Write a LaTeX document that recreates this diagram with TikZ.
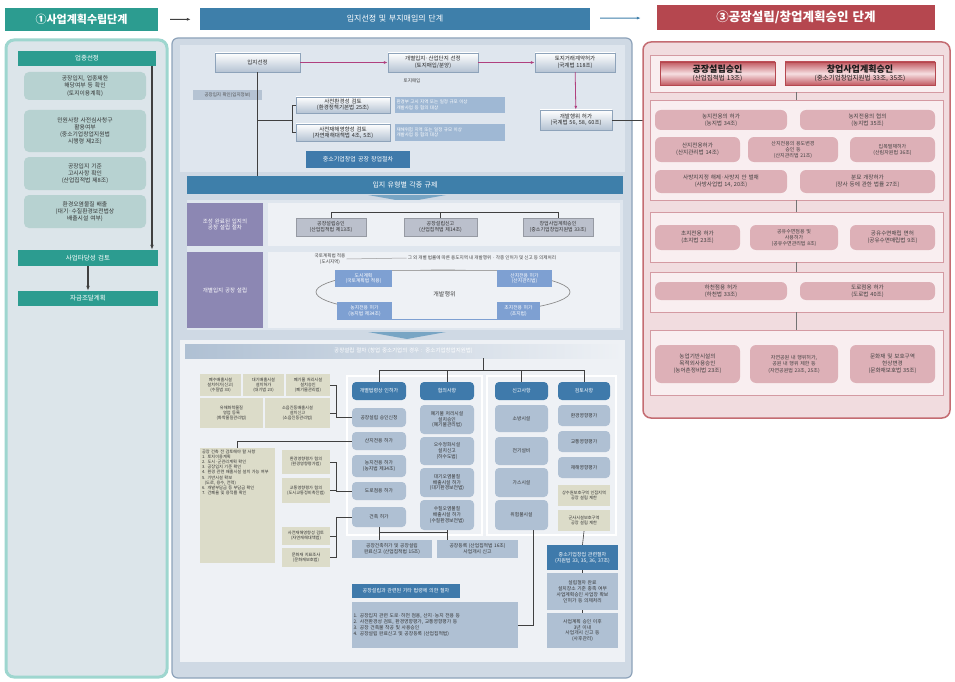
\documentclass[tikz,border=0pt]{standalone}
\usepackage{fontspec}
\setmainfont{Noto Sans CJK KR}
\usetikzlibrary{arrows.meta,shapes.geometric}
\XeTeXlinebreaklocale "ko"
\definecolor{tealH}{HTML}{2C9C90}
\definecolor{tealL}{HTML}{B7D2D1}
\definecolor{tealP}{HTML}{9ED6CF}
\definecolor{panL}{HTML}{DCE5EA}
\definecolor{blueH}{HTML}{3E7FAA}
\definecolor{blueM}{HTML}{3F7AAB}
\definecolor{gbF}{HTML}{B5C3D3}
\definecolor{gbB}{HTML}{8EA3BA}
\definecolor{lbF}{HTML}{9FB8D4}
\definecolor{midP}{HTML}{CFD9E4}
\definecolor{midI}{HTML}{DFE6EE}
\definecolor{secL}{HTML}{EEF1F5}
\definecolor{purpF}{HTML}{8C87B3}
\definecolor{greyF}{HTML}{BBC0CC}
\definecolor{bluebF}{HTML}{7EA0D2}
\definecolor{colF}{HTML}{AFC0D3}
\definecolor{beigeF}{HTML}{DCDCC9}
\definecolor{redH}{HTML}{B5474F}
\definecolor{redM}{HTML}{C25A62}
\definecolor{redL}{HTML}{F6DFE2}
\definecolor{pinkF}{HTML}{DDB0B7}
\definecolor{pinkS}{HTML}{F9EEF0}
\definecolor{pinkB}{HTML}{D49AA2}
\definecolor{pinkP}{HTML}{F1DCDF}
\definecolor{magA}{HTML}{B0407E}
\newcommand\bx[7]{%
 \pgfmathsetmacro\bxw{#4-(#2)}%
 \pgfmathsetmacro\bxh{#5-(#3)}%
 \pgfmathsetmacro\bxx{(#2+#4)/2}%
 \pgfmathsetmacro\bxy{(#3+#5)/2}%
 \pgfmathsetmacro\bxt{max(#4-(#2)-3,1)}%
 \node[#6, minimum width=\bxw pt, minimum height=\bxh pt, text width=\bxt pt] (#1) at (\bxx,\bxy) {#7};}
\begin{document}
\begin{tikzpicture}[x=1pt,y=-1pt,
 font=\fontsize{5}{6}\selectfont,
 base/.style={draw=none, align=center, inner xsep=1.5pt, inner ysep=0.5pt},
 hdrT/.style={base, fill=tealH, text=white, font=\fontsize{11}{12}\selectfont\bfseries},
 hdrB/.style={base, fill=blueH, text=white, font=\fontsize{8}{9}\selectfont},
 hdrR/.style={base, fill=redH, text=white, font=\fontsize{12.5}{13}\selectfont\bfseries},
 barT/.style={base, fill=tealH, text=white, font=\fontsize{6.5}{7.5}\selectfont},
 tbox/.style={base, fill=tealL, rounded corners=5pt, text=black!80, font=\fontsize{5.8}{7.2}\selectfont},
 gbox/.style={base, draw=gbB, top color=white, bottom color=gbF, text=black!85, font=\fontsize{5.5}{6.5}\selectfont},
 lbl/.style={base, fill=gbF, text=black!70, font=\fontsize{4.5}{5}\selectfont},
 lbb/.style={base, fill=lbF, text=white, font=\fontsize{4.5}{5.5}\selectfont, align=left},
 dbb/.style={base, fill=blueM, text=white, font=\fontsize{6}{7}\selectfont},
 bannerB/.style={base, fill=blueH, text=white, font=\fontsize{7}{8}\selectfont},
 purp/.style={base, fill=purpF, text=white, font=\fontsize{5.5}{6.8}\selectfont},
 greyb/.style={base, fill=greyF, draw=greyF!80!black, text=black!80, font=\fontsize{5}{6}\selectfont},
 bluebx/.style={base, fill=bluebF, text=white, font=\fontsize{4.8}{5.8}\selectfont},
 headb/.style={base, fill=blueM, rounded corners=4pt, text=white, font=\fontsize{5}{6}\selectfont},
 colb/.style={base, fill=colF, rounded corners=4pt, text=black!80, font=\fontsize{4.8}{5.8}\selectfont},
 beige/.style={base, fill=beigeF, text=black!80, font=\fontsize{4.2}{5.1}\selectfont},
 gb2/.style={base, fill=colF, text=black!80, font=\fontsize{4.8}{5.8}\selectfont},
 redb/.style={base, draw=redH, top color=redM, bottom color=redM, middle color=redL, text=black!90, font=\fontsize{6.5}{8}\selectfont},
 pinkb/.style={base, fill=pinkF, rounded corners=6pt, text=black!75, font=\fontsize{5.6}{6.8}\selectfont},
 sect/.style={base, draw=pinkB, fill=pinkS},
 conn/.style={draw=black!75, line width=0.6pt},
 marr/.style={draw=magA, line width=0.8pt, -{Latex[length=4pt,width=3pt]}},
 txt/.style={align=center, font=\fontsize{4.6}{5.5}\selectfont, text=black!75, inner sep=1pt}]
\useasboundingbox (0,0) rectangle (955,682);
\fill[white] (0,0) rectangle (955,682);

% ---------------- headers
\bx{h1}{5}{8}{158}{31}{hdrT}{①사업계획수립단계}
\bx{h2}{200}{8}{590}{30}{hdrB}{입지선정 및 부지매입의 단계}
\bx{h3}{657}{5}{935}{30}{hdrR}{③공장설립/창업계획승인 단계}
\draw[conn, line width=1pt, -{Latex[length=4pt]}, shorten <=12pt, shorten >=9pt] (h1) -- (h2);
\draw[draw=blueH, line width=1pt, -{Latex[length=4pt]}, shorten <=10pt, shorten >=16pt] (h2) -- (h3);

% ---------------- left panel
\draw[draw=tealP, fill=panL, line width=3pt, rounded corners=8pt] (6,40) rectangle (167,677);
\bx{l0}{18}{51}{156}{66}{barT}{업종선정}
\bx{l1}{24}{72}{146}{100}{tbox}{공장입지, 업종제한\\해당여부 등 확인\\(토지이용계획)}
\bx{l2}{24}{110}{146}{152}{tbox}{민원사항 사전심사청구\\활용여부\\(중소기업창업지원법\\시행령 제2조)}
\bx{l3}{24}{157}{146}{190}{tbox}{공장입지 기준\\고시사항 확인\\(산업집적법 제8조)}
\bx{l4}{24}{195}{146}{228}{tbox}{환경오염물질 배출\\(대기·수질환경보전법상\\배출시설 여부)}
\bx{l5}{18}{250}{158}{266}{barT}{사업타당성 검토}
\bx{l6}{18}{291}{158}{306}{barT}{자금조달계획}
\coordinate (la) at (152,66);
\draw[conn, line width=1.3pt, -{Latex[length=5pt]}] (la) -- (la |- l5.north);
\draw[conn, line width=1.3pt, -{Latex[length=5pt]}] (l5) -- (l6);

% ---------------- middle panel
\draw[draw=gbB, fill=midP, line width=1.2pt, rounded corners=6pt] (172,38) rectangle (632,678);
\fill[midI] (180,45) rectangle (625,172);
\bx{m1}{215}{53}{300}{72}{gbox}{입지선정}
\bx{m2}{388}{53}{478}{72}{gbox}{개별입지·산업단지 선정\\(토지매입/분양)}
\node[txt] (m2l) at (412,81) {토지매입};
\bx{m3}{535}{53}{615}{72}{gbox}{토지거래계약허가\\(국계법 118조)}
\bx{m4}{540}{110}{612}{130}{gbox}{개발행위 허가\\(국계법 56, 58, 60조)}
\draw[marr] (m1) -- (m2);
\draw[marr] (m2) -- (m3);
\draw[marr] (m3) -- (m4);
\coordinate (rp) at (643,120);
\draw[conn] (m4.east) -- (rp);
\bx{m5}{193}{90}{262}{100}{lbl}{공장입지 확인(입지정보)}
\bx{m6}{296}{97}{390}{113}{gbox}{사전환경성 검토\\(환경정책기본법 25조)}
\bx{m7}{296}{124}{390}{141}{gbox}{사전재해영향성 검토\\(자연재해대책법 4조, 5조)}
\bx{m8}{395}{97}{505}{113}{lbb}{환경부 고시 지역 또는 일정 규모 이상\\개발사업 등 협의 대상}
\bx{m9}{395}{124}{505}{141}{lbb}{재해위험 지역 또는 일정 규모 이상\\개발사업 등 협의 대상}
\bx{m10}{306}{151}{410}{168}{dbb}{중소기업창업 공장 창업절차}
\bx{bn}{187}{176}{623}{194}{bannerB}{입지 유형별 각종 규제}
\draw[conn] (m1.south) -- (m1.south |- bn.north);
\path (m1.south) ++(0,48) coordinate (br);
\draw[conn] (m6.west) -- ++(-4,0) coordinate (bq) |- (m7.west);
\draw[conn] (br) -- (bq |- br);
\fill[blueH!70] (368,195) -- (446,195) -- (407,202) -- cycle;

% section 2
\fill[midI] (187,200) rectangle (623,330);
\fill[secL] (268,203) rectangle (620,246);
\fill[secL] (268,252) rectangle (620,328);
\bx{p1}{187}{203}{263}{246}{purp}{조성 완료된 입지의\\공장 설립 절차}
\bx{p2}{187}{252}{263}{328}{purp}{개별입지 공장 설립}
\bx{r1}{296}{218}{366}{236}{greyb}{공장설립승인\\(산업집적법 제13조)}
\bx{r2}{404}{218}{477}{236}{greyb}{공장설립신고\\(산업집적법 제14조)}
\bx{r3}{523}{218}{593}{236}{greyb}{창업사업계획승인\\(중소기업창업지원법 33조)}
\draw[conn] (r1.north) -- ++(0,-6) -| (r3.north);
\draw[conn] (r2.north) -- ++(0,-6);
\node[txt] (t1) at (330,259) {국토계획법 적용\\(도시지역)};
\node[txt] (t2) at (482,258) {그 외 개별 법률에 따른 용도지역 내 개발행위 · 각종 인허가 및 신고 등 의제처리};
\draw[draw=black!40, line width=0.5pt] (t1.east) -- (t2.west);
\node[draw=black!45, line width=0.7pt, ellipse, minimum width=254pt, minimum height=44pt] (ell) at (443,292) {};
\bx{cc}{392}{270}{497}{319}{base, fill=secL, font=\fontsize{6}{7}\selectfont, text=black!75}{개발행위}
\draw[draw=black!35] (cc.north west) -- (cc.north east);
\draw[draw=bluebF] (cc.south west) -- (cc.south east);
\bx{b1}{335}{270}{392}{287}{bluebx}{도시계획\\(국토계획법 적용)}
\bx{b2}{337}{302}{392}{320}{bluebx}{농지전용 허가\\(농지법 제34조)}
\bx{b3}{497}{270}{552}{287}{bluebx}{산지전용 허가\\(산지관리법)}
\bx{b4}{497}{302}{540}{320}{bluebx}{초지전용 허가\\(초지법)}
\fill[blueH!70] (368,332) -- (446,332) -- (407,339) -- cycle;

% section 3
\fill[secL] (180,340) rectangle (625,662);
\bx{s3}{185}{344}{622}{358}{base, left color=colF, right color=secL, text=white, font=\fontsize{5.5}{6.5}\selectfont}{공장설립 절차 (창업 중소기업의 경우 : 중소기업창업지원법)}
\draw[white, line width=1.2pt] (347,376) rectangle (482,535);
\draw[white, line width=1.2pt] (487,376) rectangle (616,535);
\bx{k1}{352}{382}{406}{400}{headb}{개별법령상 인허가}
\bx{k2}{420}{382}{474}{400}{headb}{협의사항}
\bx{k3}{495}{382}{548}{400}{headb}{신고사항}
\bx{k4}{558}{382}{610}{400}{headb}{검토사항}
\coordinate (tt) at (483,358);
\draw[conn] (k1.north) -- ++(0,-12) -| (k4.north);
\draw[conn] (k2.north) -- ++(0,-12);
\draw[conn] (k3.north) -- ++(0,-12);
\draw[conn] (tt) -- ++(0,12);
% column 1
\bx{c11}{352}{408}{406}{427}{colb}{공장설립 승인신청}
\bx{c12}{352}{432}{406}{450}{colb}{산지전용 허가}
\bx{c13}{352}{455}{406}{477}{colb}{농지전용 허가\\(농지법 제34조)}
\bx{c14}{352}{482}{406}{500}{colb}{도로점용 허가}
\bx{c15}{352}{507}{406}{527}{colb}{건축 허가}
% column 2
\bx{c21}{420}{405}{474}{434}{colb}{폐기물 처리시설\\설치승인\\(폐기물관리법)}
\bx{c22}{420}{437}{474}{465}{colb}{오수정화시설\\설치신고\\(하수도법)}
\bx{c23}{420}{468}{474}{497}{colb}{대기오염물질\\배출시설 허가\\(대기환경보전법)}
\bx{c24}{420}{500}{474}{530}{colb}{수질오염물질\\배출시설 허가\\(수질환경보전법)}
% column 3
\bx{c31}{495}{405}{548}{432}{colb}{소방시설}
\bx{c32}{495}{437}{548}{465}{colb}{전기설비}
\bx{c33}{495}{468}{548}{497}{colb}{가스시설}
\bx{c34}{495}{500}{548}{530}{colb}{위험물시설}
% column 4
\bx{c41}{558}{405}{610}{426}{colb}{환경영향평가}
\bx{c42}{558}{431}{610}{452}{colb}{교통영향평가}
\bx{c43}{558}{457}{610}{478}{colb}{재해영향평가}
\bx{c44}{558}{485}{610}{506}{beige}{상수원보호구역 인접지역\\공장 설립 제한}
\bx{c45}{558}{510}{610}{531}{beige}{군사시설보호구역\\공장 설립 제한}
% below columns
\bx{e1}{352}{540}{432}{558}{gb2}{공장건축허가 및 공장설립\\완료신고 (산업집적법 15조)}
\bx{e2}{437}{540}{518}{558}{gb2}{공장등록 (산업집적법 16조)\\사업개시 신고}
\draw[conn] (c15.south) -- ++(0,5) coordinate (qd) -| (c24.south);
\draw[conn] (qd) -- (qd |- e1.north);
\draw[conn] (c24.south) -- (c24.south |- e2.north);
\bx{g1}{547}{545}{618}{570}{headb, rounded corners=0pt}{중소기업창업 관련절차\\(지원법 33, 35, 36, 37조)}
\bx{g2}{547}{573}{618}{610}{gb2}{설립절차 완료\\설치장소 기준 충족 여부\\사업계획승인 사업장 확보\\인허가 등 의제처리}
\bx{g3}{547}{613}{618}{648}{gb2}{사업계획 승인 이후\\3년 이내\\사업개시 신고 등\\(사후관리)}
\draw[conn] (c45.south) -- (g1.north);
\draw[conn] (g1.south) -- (g2.north);
\draw[conn] (g2.south) -- (g3.north);
\bx{f1}{352}{584}{460}{598}{headb, rounded corners=0pt}{공장설립과 관련된 기타 법령에 의한 절차}
\bx{f2}{352}{602}{518}{648}{gb2, align=left}{1. 공장입지 관련 도로·하천 점용, 산지·농지 전용 등\\2. 사전환경성 검토, 환경영향평가, 교통영향평가 등\\3. 공장 건축물 착공 및 사용승인\\4. 공장설립 완료신고 및 공장등록 (산업집적법)}
\draw[conn] ([xshift=12pt]c34.south) |- (f2.east);
% left beige area
\bx{a1}{200}{374}{241}{396}{beige}{폐수배출시설\\설치허가(신고)\\(수질법 33)}
\bx{a2}{243}{374}{284}{396}{beige}{대기배출시설\\설치허가\\(대기법 23)}
\bx{a3}{286}{374}{330}{396}{beige}{폐기물 처리시설\\설치승인\\(폐기물관리법)}
\bx{a4}{200}{398}{263}{428}{beige}{유해화학물질\\영업 등록\\(화학물질관리법)}
\bx{a5}{265}{398}{330}{428}{beige}{소음진동배출시설\\설치신고\\(소음진동관리법)}
\draw[conn] (a3.east) -- ++(6,0) coordinate (qa) |- (a5.east);
\draw[conn] (qa) |- (c11.west);
\bx{bg}{200}{448}{275}{563}{beige}{}
\node[beige, align=left, anchor=north west, text width=71pt, inner sep=2pt] (bgt) at (bg.north west) {공장 건축 전 검토해야 할 사항\\1. 토지이용계획\\2. 도시·군관리계획 확인\\3. 공장입지 기준 확인\\4. 환경 관련 배출시설 설치 가능 여부\\5. 기반시설 확보\\\ \ (도로, 용수, 전력)\\6. 개발부담금 등 부담금 확인\\7. 건폐율 및 용적률 확인};
\draw[conn] (bg.north) |- (c12.west);
\bx{d1}{282}{450}{330}{474}{beige}{환경영향평가 협의\\(환경영향평가법)}
\bx{d2}{282}{478}{330}{503}{beige}{교통영향평가 협의\\(도시교통정비촉진법)}
\bx{d3}{282}{527}{330}{545}{beige}{사전재해영향성 검토\\(자연재해대책법)}
\bx{d4}{282}{548}{330}{567}{beige}{문화재 지표조사\\(문화재보호법)}
\draw[conn] (d1.east) -- ++(6,0) coordinate (qb) |- (d2.east);
\draw[conn] (qb) |- (c14.west);
\draw[conn] (d3.east) -- ++(6,0) coordinate (qc) |- (d4.east);
\draw[conn] (qc) |- (c15.west);

% ---------------- right panel
\draw[draw=redH!80, fill=pinkP, line width=1.5pt, rounded corners=8pt] (643,42) rectangle (950,418);
\bx{S1}{650}{55}{943}{92}{sect}{}
\bx{S2}{650}{100}{943}{200}{sect}{}
\bx{S3}{650}{212}{943}{262}{sect}{}
\bx{S4}{650}{272}{943}{312}{sect}{}
\bx{S5}{650}{330}{943}{395}{sect}{}
\draw[conn, black!55, line width=1pt] (S1.south) -- (S2.north);
\draw[conn, black!55, line width=1pt] (S2.south) -- (S3.north);
\draw[conn, black!55, line width=1pt] (S3.south) -- (S4.north);
\draw[conn, black!55, line width=1pt] (S4.south) -- (S5.north);
\bx{R1}{660}{62}{775}{85}{redb}{{\fontsize{9}{10}\selectfont\bfseries 공장설립승인}\\(산업집적법 13조)}
\bx{R2}{785}{62}{935}{85}{redb}{{\fontsize{9}{10}\selectfont\bfseries 창업사업계획승인}\\(중소기업창업지원법 33조, 35조)}
\bx{q1}{655}{110}{787}{130}{pinkb}{농지전용의 허가\\(농지법 34조)}
\bx{q2}{800}{110}{935}{130}{pinkb}{농지전용의 협의\\(농지법 35조)}
\bx{q3}{655}{137}{740}{162}{pinkb}{산지전용허가\\(산지관리법 14조)}
\bx{q4}{748}{137}{838}{162}{pinkb, font=\fontsize{5}{6}\selectfont}{산지전용의 용도변경\\승인 등\\(산지관리법 21조)}
\bx{q5}{850}{137}{935}{162}{pinkb, font=\fontsize{5}{6}\selectfont}{입목벌채허가\\(산림자원법 36조)}
\bx{q6}{655}{170}{787}{193}{pinkb}{사방지지정 해제·사방지 안 벌채\\(사방사업법 14, 20조)}
\bx{q7}{800}{170}{935}{193}{pinkb}{분묘 개장허가\\(장사 등에 관한 법률 27조)}
\bx{q8}{655}{225}{740}{250}{pinkb}{초지전용 허가\\(초지법 23조)}
\bx{q9}{750}{225}{838}{250}{pinkb, font=\fontsize{5}{6}\selectfont}{공유수면점용 및\\사용허가\\(공유수면관리법 8조)}
\bx{q10}{850}{225}{935}{250}{pinkb}{공유수면매립 면허\\(공유수면매립법 9조)}
\bx{q11}{655}{282}{787}{300}{pinkb}{하천점용 허가\\(하천법 33조)}
\bx{q12}{800}{282}{935}{300}{pinkb}{도로점용 허가\\(도로법 40조)}
\bx{q13}{655}{345}{740}{383}{pinkb}{농업기반시설의\\목적외사용승인\\(농어촌정비법 23조)}
\bx{q14}{750}{345}{838}{383}{pinkb, font=\fontsize{5}{6.5}\selectfont}{자연공원 내 행위허가,\\공원 내 행위 제한 등\\(자연공원법 23조, 25조)}
\bx{q15}{850}{345}{935}{383}{pinkb}{문화재 및 보호구역\\현상변경\\(문화재보호법 35조)}
\end{tikzpicture}
\end{document}
